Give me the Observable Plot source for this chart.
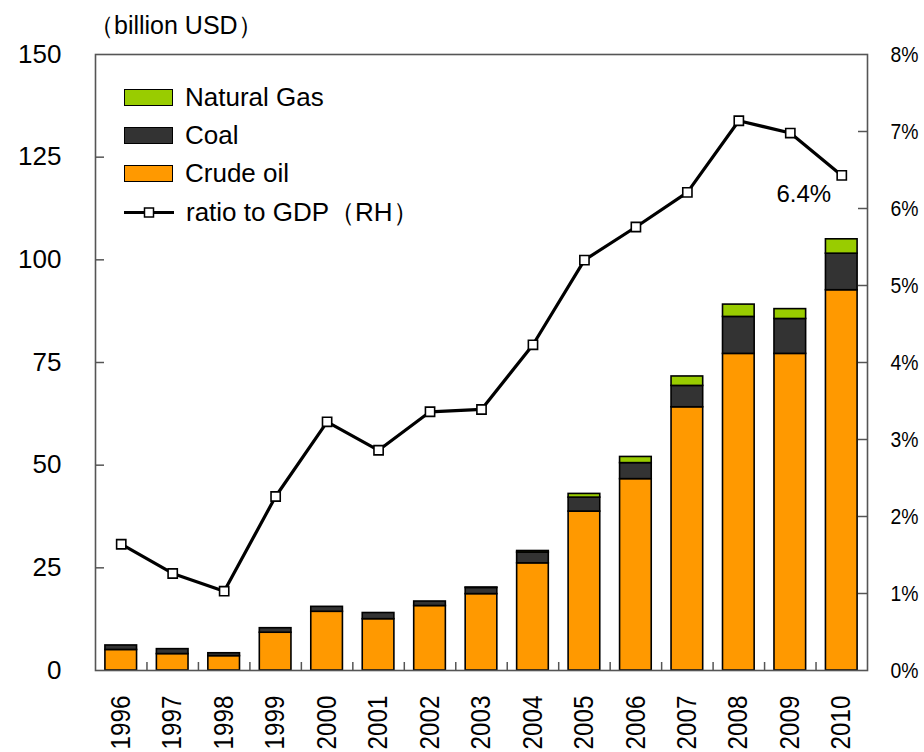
<!DOCTYPE html>
<html>
<head>
<meta charset="utf-8">
<script src="https://cdn.jsdelivr.net/npm/d3@7"></script>
<script src="https://cdn.jsdelivr.net/npm/@observablehq/plot@0.6"></script>
<style>
  html, body { margin: 0; padding: 0; background: #fff; }
  #wrap { position: relative; width: 924px; height: 752px; overflow: hidden; font-family: "Liberation Sans", Arial, sans-serif; }
  #unit { position: absolute; left: 89px; top: 13px; font-size: 25px; line-height: 25px; color: #000; white-space: nowrap; }
  #legend { position: absolute; left: 124px; top: 78px; font-size: 26px; color: #000; }
  .li { position: relative; height: 38.3px; display: flex; align-items: center; }
  .sw { width: 47px; height: 15px; border: 1.5px solid #000; margin-right: 12px; }
  .ln { width: 50px; height: 17px; margin-right: 12px; }
</style>
</head>
<body>
<div id="wrap">
  <div id="chart"></div>
  <div id="unit">（billion USD）</div>
  <div id="legend"></div>
</div>
<script>
// ---- data ----
const years = ["1996","1997","1998","1999","2000","2001","2002","2003","2004","2005","2006","2007","2008","2009","2010"];
const crudeOil   = [5.0, 4.0, 3.5, 9.2, 14.3, 12.5, 15.7, 18.6, 26.1, 38.7, 46.6, 64.1, 77.1, 77.1, 92.6];
const coal       = [1.1, 1.2, 0.7, 1.1, 1.2, 1.5, 1.1, 1.5, 2.6, 3.4, 3.9, 5.2, 9.0, 8.5, 8.9];
const naturalGas = [0, 0, 0, 0, 0, 0, 0, 0.1, 0.4, 0.9, 1.5, 2.3, 3.0, 2.4, 3.5];
const ratioToGDP = [1.64, 1.26, 1.03, 2.26, 3.23, 2.86, 3.36, 3.39, 4.23, 5.33, 5.76, 6.21, 7.14, 6.98, 6.43];
const leftTicks  = [0, 25, 50, 75, 100, 125, 150];
const rightTicks = [0, 1, 2, 3, 4, 5, 6, 7, 8];
const seriesNames  = ["Crude oil", "Coal", "Natural Gas"];
const seriesColors = ["#FF9900", "#333333", "#99CC00"];
const lineName = "ratio to GDP（RH）";
const annotation = "6.4%";

// ---- layout ----
const W = 924, H = 752;
const mL = 95, mR = 57, mT = 54, mB = 82;
const plotW = W - mL - mR, plotH = H - mT - mB;
const yMax = 150, rMax = 8, k = yMax / rMax;
const padIn = 0.385;
const step = plotW / years.length;

const stacked = [];
years.forEach((y, i) => {
  [crudeOil[i], coal[i], naturalGas[i]].forEach((v, j) => {
    if (v > 0) stacked.push({year: y, type: seriesNames[j], value: v});
  });
});
const ratioData = years.map((y, i) => ({year: y, r: ratioToGDP[i], v: ratioToGDP[i] * k}));

const chart = Plot.plot({
  width: W, height: H,
  marginLeft: mL, marginRight: mR, marginTop: mT, marginBottom: mB,
  style: {fontFamily: "Liberation Sans, Arial, sans-serif", background: "white", color: "black"},
  x: {domain: years, paddingInner: padIn, paddingOuter: padIn / 2, round: false, label: null},
  y: {domain: [0, yMax], label: null},
  color: {domain: seriesNames, range: seriesColors},
  marks: [
    Plot.barY(stacked, {x: "year", y: "value", fill: "type", stroke: "#000", strokeWidth: 1.6}),
    Plot.ruleY(leftTicks.slice(1, -1), {y: d => d, insetRight: plotW - 9, stroke: "#555", strokeWidth: 1.5}),
    Plot.ruleY(rightTicks.slice(1, -1), {y: d => d * k, insetLeft: plotW - 9, stroke: "#555", strokeWidth: 1.5}),
    Plot.ruleX(years.slice(0, -1), {x: d => d, dx: step / 2, insetTop: plotH - 8, stroke: "#555", strokeWidth: 1.5}),
    Plot.frame({stroke: "#555", strokeWidth: 1.6}),
    Plot.line(ratioData, {x: "year", y: "v", stroke: "#000", strokeWidth: 3.2}),
    Plot.dot(ratioData, {x: "year", y: "v", symbol: "square", r: 5.2, fill: "white", stroke: "#000", strokeWidth: 1.6}),
    Plot.text(ratioData.slice(-1), {x: "year", y: "v", text: () => annotation, dx: -38, dy: 19, fontSize: 24, fill: "#000"}),
    Plot.axisY(leftTicks, {anchor: "left", tickSize: 0, tickPadding: 34, fontSize: 26, label: null}),
    Plot.axisY(rightTicks.map(d => d * k), {anchor: "right", tickSize: 0, tickPadding: 23, fontSize: 22, tickFormat: d => Math.round(d / k) + "%", label: null}),
    Plot.axisX({anchor: "bottom", tickSize: 0, tickPadding: 25, tickRotate: -90, fontSize: 27, label: null})
  ]
});
document.getElementById("chart").appendChild(chart);

// compress narrow labels so that they fit like the reference's narrow font
chart.querySelectorAll('g[aria-label="y-axis tick label"]').forEach(g => {
  if ([...g.querySelectorAll("text")].some(t => t.textContent.includes("%"))) {
    g.querySelectorAll("text").forEach(t => { t.setAttribute("textLength", 28); t.setAttribute("lengthAdjust", "spacingAndGlyphs"); });
  }
});
chart.querySelectorAll('g[aria-label="x-axis tick label"] text').forEach(t => {
  t.setAttribute("textLength", 54); t.setAttribute("lengthAdjust", "spacingAndGlyphs");
});

// ---- legend ----
const legend = document.getElementById("legend");
[["Natural Gas", "#99CC00"], ["Coal", "#333333"], ["Crude oil", "#FF9900"]].forEach(([name, col]) => {
  const row = document.createElement("div");
  row.className = "li";
  row.innerHTML = `<div class="sw" style="background:${col}"></div><span>${name}</span>`;
  legend.appendChild(row);
});
const row = document.createElement("div");
row.className = "li";
row.innerHTML = `<svg class="ln" width="50" height="17"><line x1="0" x2="50" y1="8.5" y2="8.5" stroke="#000" stroke-width="3"/><rect x="20.5" y="4" width="9" height="9" fill="#fff" stroke="#000" stroke-width="1.5"/></svg><span>${lineName}</span>`;
legend.appendChild(row);
</script>
</body>
</html>
